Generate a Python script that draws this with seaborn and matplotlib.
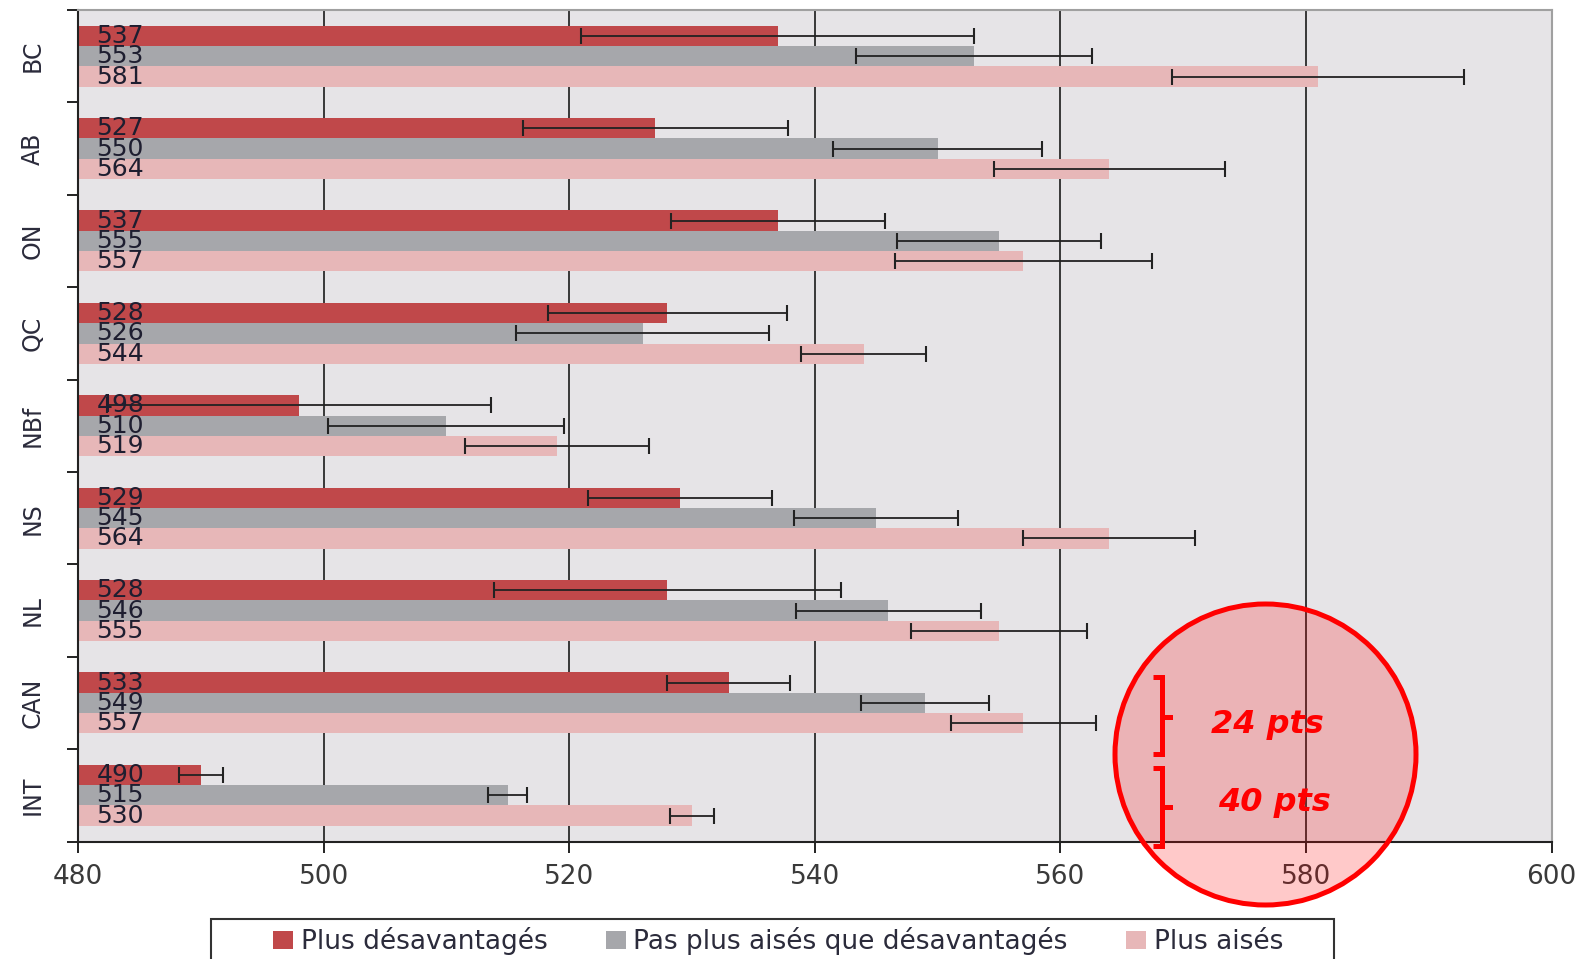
import numpy as np
import pandas as pd
import matplotlib
matplotlib.use("Agg")
import matplotlib.pyplot as plt
import seaborn as sns
from matplotlib.patches import Ellipse, Rectangle
from matplotlib.lines import Line2D

# ---------------- data ----------------
categories = ["BC", "AB", "ON", "QC", "NBf", "NS", "NL", "CAN", "INT"]
groups = ["Plus désavantagés", "Pas plus aisés que désavantagés", "Plus aisés"]
low_ses = [537, 527, 537, 528, 498, 529, 528, 533, 490]
mid_ses = [553, 550, 555, 526, 510, 545, 546, 549, 515]
high_ses = [581, 564, 557, 544, 519, 564, 555, 557, 530]
low_err = [16.0, 10.8, 8.7, 9.7, 15.6, 7.5, 14.1, 5.0, 1.8]
mid_err = [9.6, 8.5, 8.3, 10.3, 9.6, 6.7, 7.5, 5.2, 1.6]
high_err = [11.9, 9.4, 10.5, 5.1, 7.5, 7.0, 7.2, 5.9, 1.8]
x_ticks = [480, 500, 520, 540, 560, 580, 600]
annot_labels = ["24 pts", "40 pts"]

palette = ["#C0484A", "#A6A7AB", "#E7B7B8"]

values = [low_ses, mid_ses, high_ses]
errors = [low_err, mid_err, high_err]
rows = []
for g, vals, errs in zip(groups, values, errors):
    for c, v, e in zip(categories, vals, errs):
        rows.append({"cat": c, "group": g, "score": v, "err": e})
df = pd.DataFrame(rows)

# ---------------- figure ----------------
W, H = 1587, 959
fig = plt.figure(figsize=(W / 100, H / 100), dpi=100)
ax = fig.add_axes([78 / W, 1 - 841.5 / H, (1551.5 - 78) / W, (841.5 - 10) / H])
ax.set_facecolor("#E6E4E7")

sns.barplot(data=df, y="cat", x="score", hue="group", order=categories,
            hue_order=groups, palette=palette, orient="h", width=0.66,
            errorbar=None, saturation=1, ax=ax, legend=True, zorder=2)

handles, labels = ax.get_legend_handles_labels()
ax.legend_.remove()

ax.set_xlim(480, 600)
ax.set_ylim(8.5, -0.5)
ax.set_xticks(x_ticks)
ax.set_xlabel("")
ax.set_ylabel("")

# gridlines behind bars
ax.set_axisbelow(True)
ax.grid(axis="x", color="#2a2a2a", linewidth=1.3, zorder=0)
ax.grid(axis="y", visible=False)

# error bars & labels from bar geometry
lookup = {(r.cat, r.group): (r.score, r.err) for r in df.itertuples()}
for g, cont in zip(groups, ax.containers):
    for c, p in zip(categories, cont.patches):
        yc = p.get_y() + p.get_height() / 2
        v, e = lookup[(c, g)]
        ax.errorbar(v, yc, xerr=e, fmt="none", ecolor="#222222",
                    elinewidth=1.3, capsize=6, capthick=1.5, zorder=4)
        ax.text(481.5, yc, str(v), ha="left", va="center", fontsize=18,
                color="#1E1E30", zorder=5)

# ticks
ax.tick_params(axis="y", which="major", length=0, pad=24, labelsize=17,
               labelcolor="#2B2B3B")
for lab in ax.get_yticklabels():
    lab.set_rotation(90)
    lab.set_va("center")
ax.set_yticks(np.arange(-0.5, 9.0, 1.0), minor=True)
ax.tick_params(axis="y", which="minor", length=8, width=1.4, color="#222222")
ax.tick_params(axis="x", which="major", length=8, width=1.4, color="#222222",
               pad=8, labelsize=19, labelcolor="#3A3A3A")

for s in ["left", "bottom"]:
    ax.spines[s].set_color("#222222")
    ax.spines[s].set_linewidth(1.5)
for s in ["top", "right"]:
    ax.spines[s].set_color("#A0A0A0")
    ax.spines[s].set_linewidth(1.5)

# ---------------- legend ----------------
fs_leg = 19
leg = fig.legend(handles, labels, loc="center",
                 bbox_to_anchor=(778 / W, 1 - 941 / H), ncol=3, fontsize=fs_leg,
                 frameon=False, handlelength=0.76, handleheight=0.7,
                 handletextpad=0.3, columnspacing=2.2, borderpad=0,
                 borderaxespad=0)
for t in leg.get_texts():
    t.set_color("#2B2B3B")
box = Rectangle((210.5 / W, 1 - 985 / H), (1334 - 210.5) / W, (985 - 919) / H,
                transform=fig.transFigure, facecolor="none",
                edgecolor="#333333", linewidth=1.5, clip_on=False)
fig.add_artist(box)

# ---------------- circle annotation ----------------
cx, cy, r = 1265.5, 754.5, 150.5
circ = Ellipse((cx / W, 1 - cy / H), 2 * r / W, 2 * r / H,
               transform=fig.transFigure, facecolor=(1, 0, 0, 0.21),
               edgecolor="#FF0000", linewidth=3.6, zorder=10, clip_on=False)
fig.add_artist(circ)

def fx(x):
    return x / W

def fy(y):
    return 1 - y / H

for top, mid, bot in [(677, 717, 754), (768, 807, 846)]:
    xs = [1153, 1162, 1162, 1172, 1162, 1162, 1153]
    ys = [top, top, mid, mid, mid, bot, bot]
    fig.add_artist(Line2D([fx(x) for x in xs], [fy(y) for y in ys],
                          transform=fig.transFigure, color="#FF0000",
                          linewidth=3.6, solid_joinstyle="miter",
                          solid_capstyle="butt", zorder=11))

fig.text(fx(1267), fy(724), annot_labels[0], ha="center", va="center",
         fontsize=23, fontweight="bold", fontstyle="italic", color="#FF0000",
         zorder=12)
fig.text(fx(1274), fy(803), annot_labels[1], ha="center", va="center",
         fontsize=23, fontweight="bold", fontstyle="italic", color="#FF0000",
         zorder=12)

fig.savefig("out.png", dpi=100)
